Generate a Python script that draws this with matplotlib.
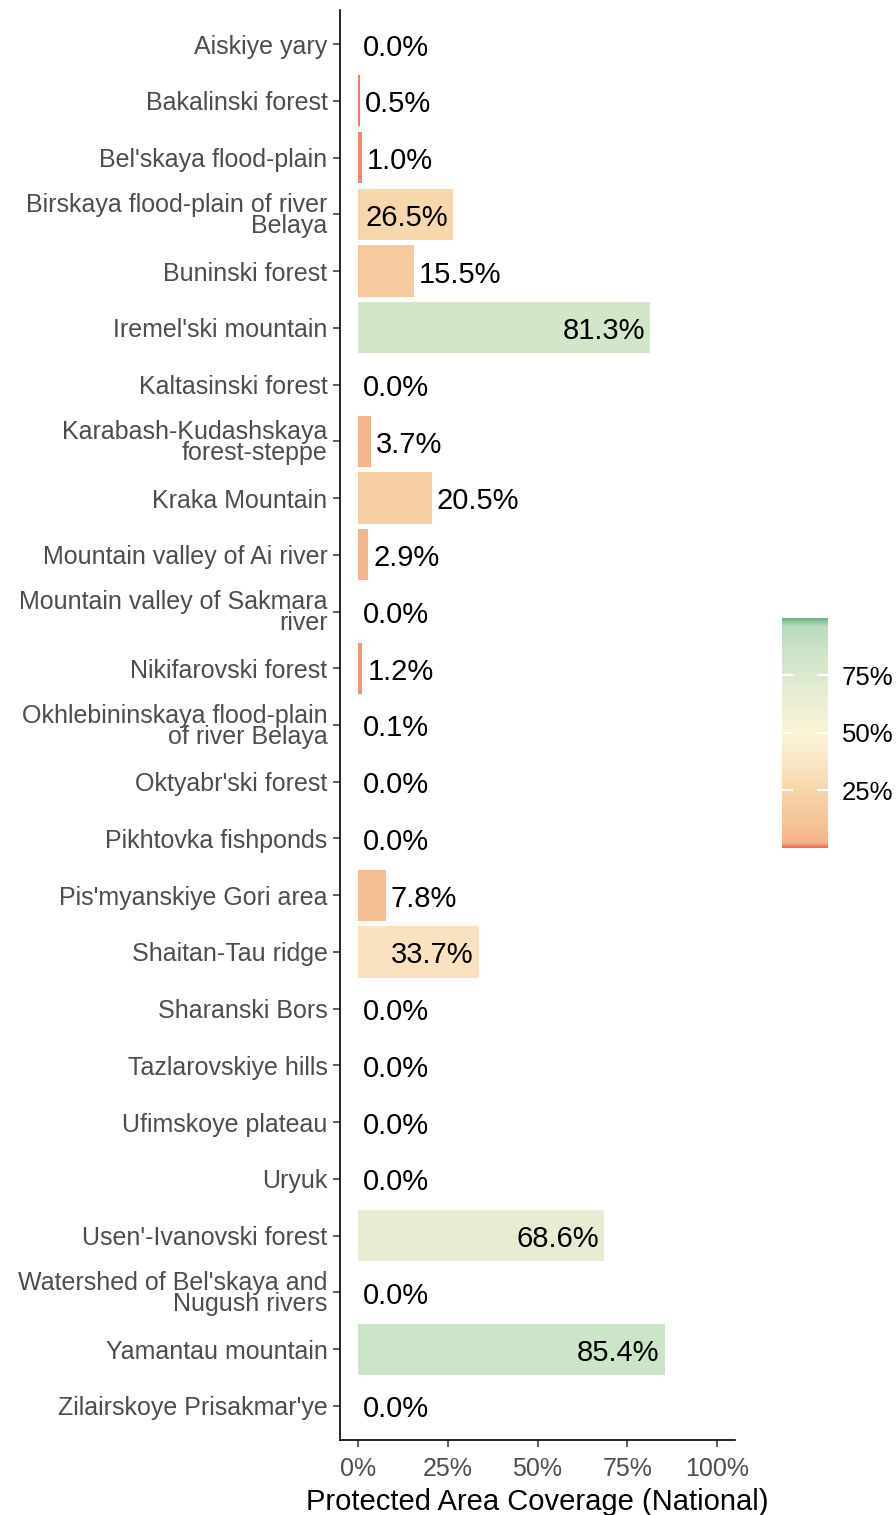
import numpy as np
import matplotlib
matplotlib.use('Agg')
import matplotlib.pyplot as plt
from matplotlib.colors import LinearSegmentedColormap

plt.rcParams['font.family'] = ['Liberation Sans', 'DejaVu Sans']

# data
sites = ["Aiskiye yary", "Bakalinski forest", "Bel'skaya flood-plain",
         "Birskaya flood-plain of river\nBelaya", "Buninski forest",
         "Iremel'ski mountain", "Kaltasinski forest",
         "Karabash-Kudashskaya\nforest-steppe", "Kraka Mountain",
         "Mountain valley of Ai river", "Mountain valley of Sakmara\nriver",
         "Nikifarovski forest", "Okhlebininskaya flood-plain\nof river Belaya",
         "Oktyabr'ski forest", "Pikhtovka fishponds", "Pis'myanskiye Gori area",
         "Shaitan-Tau ridge", "Sharanski Bors", "Tazlarovskiye hills",
         "Ufimskoye plateau", "Uryuk", "Usen'-Ivanovski forest",
         "Watershed of Bel'skaya and\nNugush rivers", "Yamantau mountain",
         "Zilairskoye Prisakmar'ye"]
coverage = [0.0, 0.5, 1.0, 26.5, 15.5, 81.3, 0.0, 3.7, 20.5, 2.9, 0.0, 1.2, 0.1,
            0.0, 0.0, 7.8, 33.7, 0.0, 0.0, 0.0, 0.0, 68.6, 0.0, 85.4, 0.0]
x_ticks = [0, 25, 50, 75, 100]
cbar_ticks = [25, 50, 75]

# colour scale red -> pale yellow -> green (with alpha look)
nodes = [
    (0.00, (240, 110, 90)),
    (0.02, (244, 178, 140)),
    (0.10, (245, 195, 152)),
    (0.25, (247, 214, 170)),
    (0.35, (250, 228, 195)),
    (0.50, (251, 244, 215)),
    (0.70, (228, 236, 210)),
    (0.85, (205, 228, 200)),
    (0.97, (185, 218, 188)),
    (1.00, (110, 180, 135)),
]
cmap = LinearSegmentedColormap.from_list(
    'cov', [(p, tuple(c / 255 for c in rgb)) for p, rgb in nodes])

fig = plt.figure(figsize=(8.96, 15.15), dpi=100)
ax = fig.add_axes([0.3795, 0.0495, 0.4408, 0.9439])

y = np.arange(len(sites))
colors = [cmap(v / 100) for v in coverage]
ax.barh(y, coverage, height=0.9, color=colors)

for yi, v in zip(y, coverage):
    if v >= 25:
        ax.annotate(f"{v:.1f}%", (v, yi), xytext=(-3.6, -2.5), textcoords='offset points',
                    ha='right', va='center', fontsize=21, color='black')
    else:
        ax.annotate(f"{v:.1f}%", (v, yi), xytext=(3.6, -2.5), textcoords='offset points',
                    ha='left', va='center', fontsize=21, color='black')

ax.set_xlim(-5, 105)
ax.set_ylim(len(sites) - 0.4, -0.6)
ax.set_xticks(x_ticks)
ax.set_xticklabels([f"{t}%" for t in x_ticks])
ax.set_yticks(y)
ax.set_yticklabels(sites, linespacing=0.85)
ax.tick_params(axis='both', labelsize=18, labelcolor='#4D4D4D', color='#333333',
               length=5, width=1.1, pad=4)
ax.tick_params(axis='x', pad=7)
for s in ['top', 'right']:
    ax.spines[s].set_visible(False)
for s in ['left', 'bottom']:
    ax.spines[s].set_linewidth(1.2)
ax.set_xlabel('Protected Area Coverage (National)', fontsize=21, labelpad=5)

# colourbar
cax = fig.add_axes([0.8728, 0.4403, 0.0513, 0.1518])
grad = np.linspace(0, 100, 300).reshape(-1, 1)
cax.imshow(grad, cmap=cmap, aspect='auto', origin='lower', extent=[0, 1, 0, 100],
           vmin=0, vmax=100)
cax.set_xticks([])
cax.set_yticks(cbar_ticks)
cax.set_yticklabels([f"{t}%" for t in cbar_ticks])
cax.tick_params(axis='y', left=True, right=True, labelleft=False, labelright=True,
                direction='in', color='white', length=8, width=1.5,
                labelsize=18.5, labelcolor='black', pad=10)
for s in cax.spines.values():
    s.set_visible(False)

fig.savefig('out.png', dpi=100)
